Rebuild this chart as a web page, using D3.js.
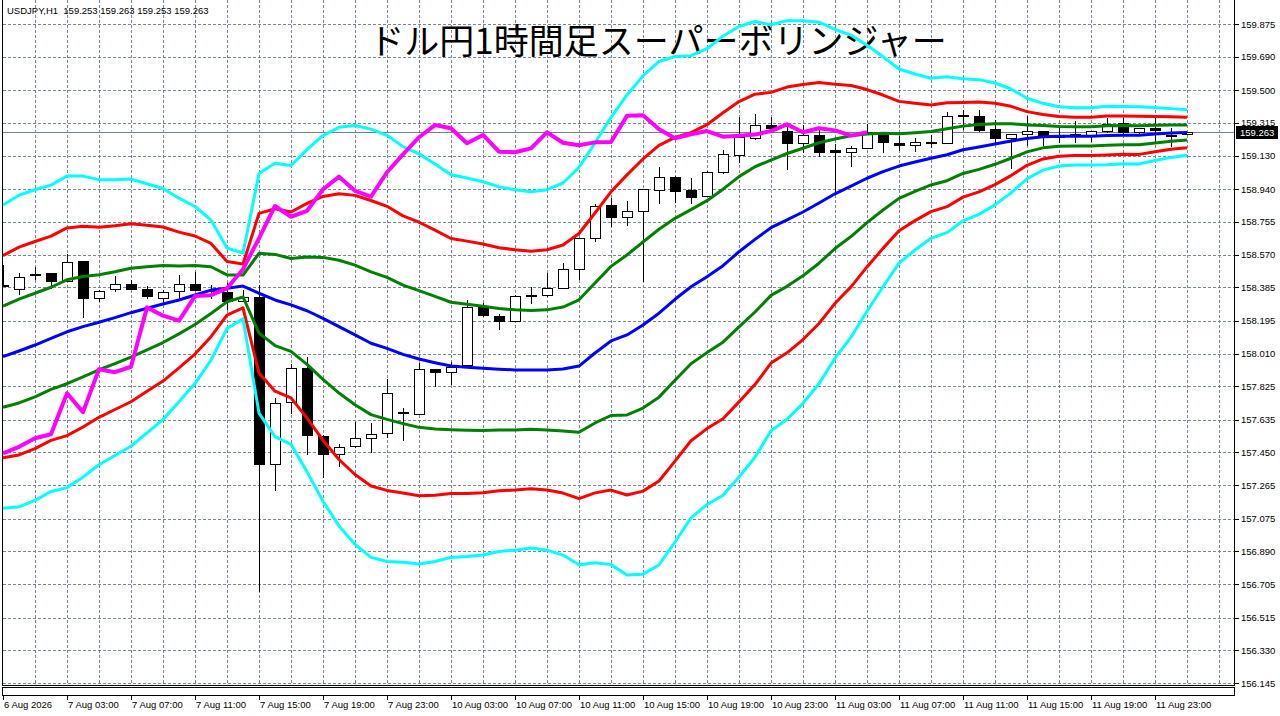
<!DOCTYPE html>
<html>
<head>
<meta charset="utf-8">
<script src="https://cdn.jsdelivr.net/npm/d3@7"></script>
<style>
  html, body { margin: 0; padding: 0; background: #fff; overflow: hidden; }
  svg { display: block; }
  text { font-family: "Liberation Sans", Arial, sans-serif; }
</style>
</head>
<body>
<svg id="chart" width="1280" height="716"></svg>
<script>
const symbolInfo = 'USDJPY,H1  159.253 159.263 159.253 159.263';
const chartTitle = 'ドル円1時間足スーパーボリンジャー';

// H1 candles, 6 Aug 23:00 -> 12 Aug 01:00
const opens = [
  158.395, 158.373, 158.455, 158.464, 158.416, 158.534, 158.328, 158.373, 158.402, 158.373,
  158.328, 158.360, 158.402, 158.372, 158.356, 158.307, 158.328, 157.383, 157.734, 157.926,
  157.545, 157.445, 157.482, 157.530, 157.558, 157.672, 157.666, 157.921, 157.904, 157.945,
  158.271, 158.222, 158.196, 158.335, 158.337, 158.379, 158.487, 158.662, 158.850, 158.784,
  158.813, 158.939, 159.011, 158.935, 158.898, 159.036, 159.130, 159.231, 159.303, 159.269,
  159.200, 159.247, 159.162, 159.149, 159.171, 159.256, 159.203, 159.186, 159.203, 159.203,
  159.354, 159.356, 159.279, 159.228, 159.251, 159.269, 159.240, 159.253, 159.247, 159.265,
  159.313, 159.262, 159.285, 159.248, 159.253
];
const highs = [
  158.511, 158.464, 158.501, 158.466, 158.573, 158.536, 158.367, 158.449, 158.426, 158.392,
  158.369, 158.454, 158.473, 158.398, 158.407, 158.369, 158.398, 157.756, 157.951, 157.992,
  157.548, 157.496, 157.621, 157.615, 157.866, 157.700, 157.954, 157.923, 157.964, 158.313,
  158.298, 158.232, 158.341, 158.388, 158.464, 158.524, 158.664, 158.856, 158.892, 158.873,
  158.941, 159.064, 159.013, 159.002, 159.043, 159.162, 159.350, 159.364, 159.347, 159.303,
  159.303, 159.275, 159.194, 159.184, 159.309, 159.265, 159.241, 159.231, 159.247, 159.379,
  159.388, 159.388, 159.332, 159.253, 159.356, 159.271, 159.294, 159.326, 159.271, 159.345,
  159.345, 159.287, 159.345, 159.288, 159.263
];
const lows = [
  158.386, 158.341, 158.426, 158.373, 158.414, 158.213, 158.303, 158.360, 158.372, 158.317,
  158.303, 158.318, 158.367, 158.318, 158.256, 158.305, 156.662, 157.233, 157.668, 157.435,
  157.304, 157.366, 157.473, 157.448, 157.533, 157.516, 157.664, 157.822, 157.832, 157.943,
  158.215, 158.143, 158.194, 158.290, 158.331, 158.377, 158.426, 158.643, 158.728, 158.733,
  158.416, 158.854, 158.860, 158.854, 158.896, 159.026, 159.087, 159.218, 159.283, 159.049,
  159.143, 159.124, 158.920, 159.067, 159.169, 159.143, 159.156, 159.149, 159.171, 159.196,
  159.275, 159.265, 159.190, 159.054, 159.186, 159.186, 159.200, 159.200, 159.205, 159.260,
  159.251, 159.252, 159.209, 159.177, 159.253
];
const closes = [
  158.390, 158.441, 158.460, 158.416, 158.526, 158.326, 158.365, 158.402, 158.373, 158.331,
  158.360, 158.402, 158.369, 158.368, 158.303, 158.328, 157.383, 157.731, 157.926, 157.545,
  157.445, 157.482, 157.530, 157.553, 157.785, 157.678, 157.921, 157.904, 157.935, 158.271,
  158.224, 158.196, 158.335, 158.340, 158.379, 158.487, 158.662, 158.845, 158.784, 158.817,
  158.939, 159.011, 158.931, 158.898, 159.036, 159.137, 159.234, 159.303, 159.285, 159.200,
  159.247, 159.152, 159.149, 159.171, 159.262, 159.203, 159.189, 159.205, 159.207, 159.356,
  159.358, 159.279, 159.228, 159.251, 159.269, 159.237, 159.242, 159.249, 159.269, 159.307,
  159.262, 159.285, 159.273, 159.243, 159.263
];

// Bollinger middle line and one sigma, per bar
const bbMiddle = [
  157.992, 158.024, 158.058, 158.096, 158.133, 158.162, 158.187, 158.213, 158.241, 158.266,
  158.290, 158.313, 158.341, 158.369, 158.379, 158.392, 158.351, 158.313, 158.285, 158.252,
  158.209, 158.162, 158.115, 158.068, 158.039, 158.005, 157.979, 157.958, 157.939, 157.932,
  157.926, 157.921, 157.917, 157.917, 157.917, 157.922, 157.939, 158.013, 158.081, 158.115,
  158.171, 158.238, 158.317, 158.388, 158.445, 158.507, 158.586, 158.656, 158.722, 158.766,
  158.811, 158.862, 158.914, 158.957, 159.002, 159.039, 159.071, 159.094, 159.115, 159.135,
  159.163, 159.179, 159.196, 159.213, 159.227, 159.237, 159.239, 159.239, 159.239, 159.244,
  159.246, 159.245, 159.252, 159.258, 159.261
];
const bbSigma = [
  0.286, 0.294, 0.293, 0.289, 0.294, 0.284, 0.269, 0.260, 0.252, 0.235,
  0.218, 0.192, 0.167, 0.132, 0.076, 0.062, 0.226, 0.258, 0.263, 0.304,
  0.345, 0.376, 0.395, 0.404, 0.402, 0.392, 0.387, 0.375, 0.361, 0.357,
  0.352, 0.344, 0.340, 0.336, 0.340, 0.351, 0.375, 0.396, 0.422, 0.453,
  0.470, 0.475, 0.458, 0.436, 0.430, 0.433, 0.425, 0.411, 0.383, 0.376,
  0.361, 0.341, 0.310, 0.285, 0.251, 0.217, 0.183, 0.166, 0.151, 0.147,
  0.134, 0.127, 0.115, 0.098, 0.076, 0.063, 0.056, 0.054, 0.054, 0.055,
  0.054, 0.054, 0.050, 0.046, 0.043
];

const chikouShift = 20;
const bands = [
  { k: 3, color: '#00ffff' },
  { k: 2, color: '#ff0000' },
  { k: 1, color: '#008000' },
  { k: -1, color: '#008000' },
  { k: -2, color: '#ff0000' },
  { k: -3, color: '#00ffff' },
  { k: 0, color: '#0000ff' }
];

const yTickLabels = ['159.875', '159.690', '159.500', '159.315', '159.130', '158.940', '158.755',
  '158.570', '158.385', '158.195', '158.010', '157.825', '157.635', '157.450', '157.265',
  '157.075', '156.890', '156.705', '156.515', '156.330', '156.145'];
const xTickLabels = ['6 Aug 2026', '7 Aug 03:00', '7 Aug 07:00', '7 Aug 11:00', '7 Aug 15:00',
  '7 Aug 19:00', '7 Aug 23:00', '10 Aug 03:00', '10 Aug 07:00', '10 Aug 11:00', '10 Aug 15:00',
  '10 Aug 19:00', '10 Aug 23:00', '11 Aug 03:00', '11 Aug 07:00', '11 Aug 11:00', '11 Aug 15:00',
  '11 Aug 19:00', '11 Aug 23:00'];
const xTickStep = 4;
const lastPrice = 159.263;

const svg = d3.select('#chart');
const plot = { left: 2.5, right: 1234.5, top: -1, bottom: 685.5 };

const x = d3.scaleLinear().domain([0, 76]).range([3, 1219]);
const y = d3.scaleLinear().domain([156.145, 159.875]).range([683, 24]);

svg.append('defs').append('clipPath').attr('id', 'plotClip')
  .append('rect')
  .attr('x', plot.left).attr('y', 0)
  .attr('width', plot.right - plot.left).attr('height', plot.bottom);

// grid
const grid = svg.append('g')
  .attr('stroke', '#778899')
  .attr('stroke-dasharray', '3,2')
  .attr('shape-rendering', 'crispEdges');

grid.selectAll('line.v')
  .data(d3.range(2, 78, 2))
  .enter().append('line')
  .attr('x1', d => Math.round(x(d)) + 0.5)
  .attr('x2', d => Math.round(x(d)) + 0.5)
  .attr('y1', 0)
  .attr('y2', plot.bottom);

grid.selectAll('line.h')
  .data(yTickLabels)
  .enter().append('line')
  .attr('x1', plot.left)
  .attr('x2', plot.right)
  .attr('y1', d => Math.round(y(+d)) + 0.5)
  .attr('y2', d => Math.round(y(+d)) + 0.5);

// title + symbol info
svg.append('text')
  .attr('x', 7).attr('y', 14)
  .attr('font-size', '9.5px')
  .attr('fill', '#000')
  .attr('xml:space', 'preserve')
  .style('white-space', 'pre')
  .text(symbolInfo);

svg.append('text')
  .attr('x', 658).attr('y', 54)
  .attr('text-anchor', 'middle')
  .attr('font-size', '35px')
  .attr('fill', '#000')
  .style('font-family', '"Noto Sans CJK JP", sans-serif')
  .text(chartTitle);

// current price line
svg.append('line')
  .attr('x1', plot.left).attr('x2', plot.right)
  .attr('y1', Math.round(y(lastPrice)) + 0.5)
  .attr('y2', Math.round(y(lastPrice)) + 0.5)
  .attr('stroke', '#708090')
  .attr('shape-rendering', 'crispEdges');

const candles = opens.map((o, i) => ({ i, o, h: highs[i], l: lows[i], c: closes[i] }));

const body = svg.append('g')
  .attr('clip-path', 'url(#plotClip)')
  .attr('shape-rendering', 'crispEdges');

body.selectAll('line.wick')
  .data(candles)
  .enter().append('line')
  .attr('x1', d => Math.round(x(d.i)) + 0.5)
  .attr('x2', d => Math.round(x(d.i)) + 0.5)
  .attr('y1', d => y(d.h))
  .attr('y2', d => y(d.l))
  .attr('stroke', '#000');

body.selectAll('rect.body')
  .data(candles)
  .enter().append('rect')
  .attr('x', d => Math.round(x(d.i)) - 4.5)
  .attr('width', 10)
  .attr('y', d => Math.round(y(Math.max(d.o, d.c))) + 0.5)
  .attr('height', d => Math.max(1, Math.round(Math.abs(y(d.o) - y(d.c)))))
  .attr('fill', d => d.c >= d.o ? '#fff' : '#000')
  .attr('stroke', '#000');

// bands
const lines = svg.append('g')
  .attr('clip-path', 'url(#plotClip)')
  .attr('fill', 'none')
  .attr('stroke-linejoin', 'round');

const bandLine = k => d3.line()
  .x((d, i) => x(i))
  .y((d, i) => y(d + k * bbSigma[i]));

bands.forEach(b => {
  lines.append('path')
    .datum(bbMiddle)
    .attr('d', bandLine(b.k))
    .attr('stroke', b.color)
    .attr('stroke-width', 3);
});

// lagging span: closes plotted chikouShift bars back
const chikou = closes.slice(chikouShift);
lines.append('path')
  .datum(chikou)
  .attr('d', d3.line().x((d, i) => x(i)).y(d => y(d)))
  .attr('stroke', '#ff00ff')
  .attr('stroke-width', 4);

// frame
svg.append('rect')
  .attr('x', plot.left).attr('y', plot.top)
  .attr('width', plot.right - plot.left).attr('height', plot.bottom - plot.top)
  .attr('fill', 'none').attr('stroke', '#000')
  .attr('shape-rendering', 'crispEdges');
svg.append('rect')
  .attr('x', plot.left).attr('y', 687.5)
  .attr('width', plot.right - plot.left).attr('height', 8)
  .attr('fill', 'none').attr('stroke', '#000')
  .attr('shape-rendering', 'crispEdges');

// price axis
const yAxis = svg.append('g');
yAxis.selectAll('line')
  .data(yTickLabels)
  .enter().append('line')
  .attr('x1', plot.right).attr('x2', plot.right + 4)
  .attr('y1', d => Math.round(y(+d)) + 0.5)
  .attr('y2', d => Math.round(y(+d)) + 0.5)
  .attr('stroke', '#000')
  .attr('shape-rendering', 'crispEdges');
yAxis.selectAll('text')
  .data(yTickLabels)
  .enter().append('text')
  .attr('x', 1241)
  .attr('y', d => y(+d) + 3.5)
  .attr('font-size', '9.5px')
  .attr('fill', '#000')
  .text(d => d);

svg.append('rect')
  .attr('x', 1236).attr('y', Math.round(y(lastPrice)) - 6)
  .attr('width', 42).attr('height', 13)
  .attr('fill', '#000');
svg.append('text')
  .attr('x', 1240).attr('y', Math.round(y(lastPrice)) + 4)
  .attr('font-size', '9.5px')
  .attr('fill', '#fff')
  .text(lastPrice.toFixed(3));

// time axis
const xAxis = svg.append('g');
xAxis.selectAll('line')
  .data(xTickLabels)
  .enter().append('line')
  .attr('x1', (d, i) => Math.round(x(i * xTickStep)) + 0.5)
  .attr('x2', (d, i) => Math.round(x(i * xTickStep)) + 0.5)
  .attr('y1', 695.5).attr('y2', 700)
  .attr('stroke', '#000')
  .attr('shape-rendering', 'crispEdges');
xAxis.selectAll('text')
  .data(xTickLabels)
  .enter().append('text')
  .attr('x', (d, i) => x(i * xTickStep) + 1)
  .attr('y', 708)
  .attr('font-size', '9.5px')
  .attr('fill', '#000')
  .text(d => d);
</script>
</body>
</html>
